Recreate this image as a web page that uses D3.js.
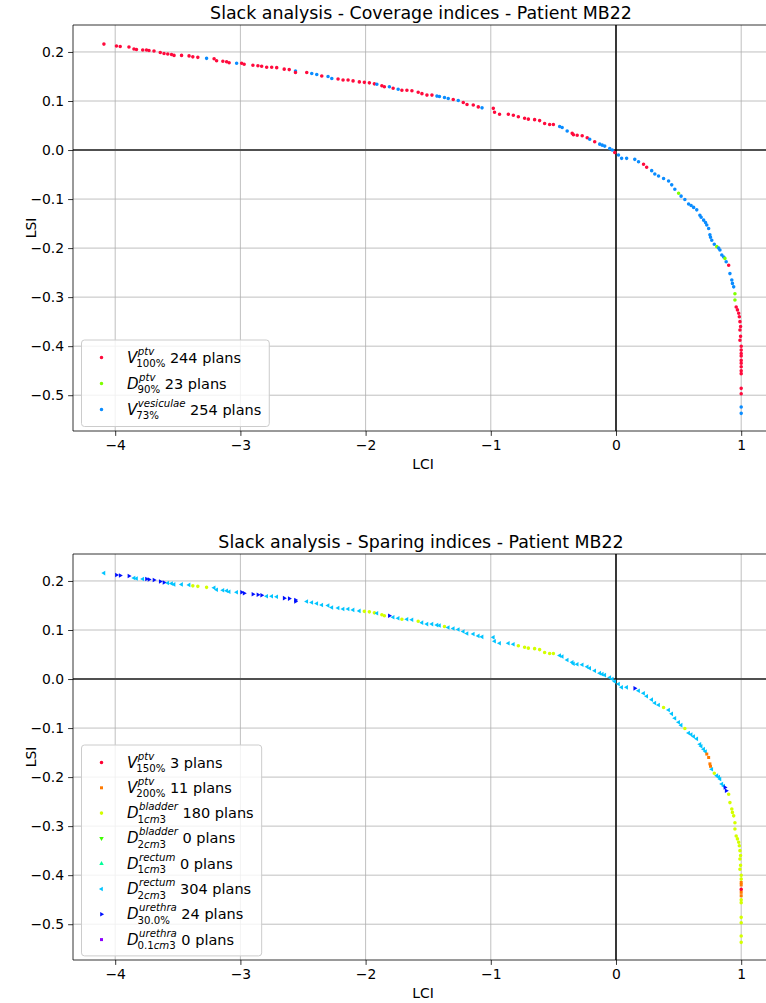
<!DOCTYPE html>
<html>
<head>
<meta charset="utf-8">
<script src="https://cdn.jsdelivr.net/npm/d3@7"></script>
<style>
  body { margin: 0; background: #fff; }
  svg { display: block; font-family: "DejaVu Sans", sans-serif; }
</style>
</head>
<body>
<div id="chart"></div>
<script>
// Plans: LCI, LSI, coverage class, sparing class
const lciValues = [
  -4.09, -3.99, -3.96, -3.89, -3.85, -3.83, -3.78, -3.75, -3.73, -3.69,
  -3.64, -3.61, -3.58, -3.55, -3.53, -3.47, -3.41, -3.38, -3.34, -3.27,
  -3.21, -3.19, -3.14, -3.11, -3.09, -3.03, -2.99, -2.97, -2.90, -2.86,
  -2.83, -2.79, -2.75, -2.71, -2.65, -2.61, -2.56, -2.56, -2.47, -2.43,
  -2.39, -2.35, -2.30, -2.27, -2.22, -2.18, -2.14, -2.10, -2.05, -2.01,
  -1.97, -1.93, -1.91, -1.87, -1.85, -1.81, -1.78, -1.74, -1.71, -1.67,
  -1.63, -1.58, -1.55, -1.51, -1.47, -1.43, -1.41, -1.37, -1.34, -1.30,
  -1.26, -1.22, -1.19, -1.14, -1.10, -1.07, -0.98, -0.97, -0.93, -0.86,
  -0.82, -0.78, -0.73, -0.70, -0.65, -0.61, -0.57, -0.53, -0.50, -0.45,
  -0.43, -0.39, -0.35, -0.34, -0.31, -0.27, -0.23, -0.21, -0.17, -0.13,
  -0.11, -0.09, -0.05, -0.03, -0.01, 0.02, 0.045, 0.085, 0.15, 0.18,
  0.22, 0.245, 0.285, 0.31, 0.34, 0.38, 0.42, 0.445, 0.47, 0.50,
  0.52, 0.55, 0.58, 0.60, 0.62, 0.645, 0.67, 0.68, 0.70, 0.715,
  0.725, 0.74, 0.75, 0.755, 0.765, 0.785, 0.805, 0.82, 0.83, 0.845,
  0.86, 0.87, 0.88, 0.90, 0.91, 0.925, 0.93, 0.94, 0.95, 0.95,
  0.96, 0.97, 0.98, 0.985, 0.99, 0.99, 0.995, 0.99, 0.995, 1.0,
  1.0, 1.0, 1.0, 1.0, 1.0, 1.0, 1.0, 1.0, 1.0, 1.0,
  1.0, 1.0
];
const lsiValues = [
  0.216, 0.212, 0.211, 0.210, 0.206, 0.205, 0.204, 0.204, 0.203, 0.202,
  0.199, 0.197, 0.196, 0.195, 0.193, 0.193, 0.192, 0.190, 0.189, 0.187,
  0.186, 0.182, 0.181, 0.180, 0.178, 0.177, 0.177, 0.175, 0.173, 0.172,
  0.171, 0.169, 0.169, 0.168, 0.165, 0.164, 0.161, 0.158, 0.158, 0.156,
  0.154, 0.151, 0.150, 0.146, 0.145, 0.143, 0.143, 0.141, 0.139, 0.138,
  0.137, 0.135, 0.134, 0.131, 0.129, 0.129, 0.126, 0.124, 0.122, 0.122,
  0.121, 0.118, 0.115, 0.112, 0.112, 0.110, 0.109, 0.107, 0.105, 0.103,
  0.101, 0.097, 0.093, 0.092, 0.088, 0.086, 0.085, 0.077, 0.073, 0.073,
  0.071, 0.068, 0.065, 0.063, 0.062, 0.060, 0.054, 0.052, 0.052, 0.048,
  0.046, 0.039, 0.034, 0.031, 0.030, 0.029, 0.025, 0.022, 0.017, 0.012,
  0.010, 0.008, 0.003, 0.000, -0.005, -0.010, -0.017, -0.017, -0.019, -0.024,
  -0.029, -0.035, -0.042, -0.049, -0.053, -0.058, -0.063, -0.071, -0.080, -0.088,
  -0.094, -0.101, -0.110, -0.113, -0.117, -0.122, -0.133, -0.137, -0.143, -0.148,
  -0.153, -0.160, -0.173, -0.178, -0.184, -0.192, -0.197, -0.200, -0.204, -0.214,
  -0.218, -0.221, -0.228, -0.235, -0.252, -0.265, -0.272, -0.279, -0.293, -0.306,
  -0.320, -0.326, -0.333, -0.340, -0.350, -0.367, -0.360, -0.388, -0.380, -0.400,
  -0.408, -0.415, -0.420, -0.429, -0.435, -0.442, -0.450, -0.456, -0.486, -0.497,
  -0.524, -0.537
];
// 0: V100% ptv, 1: D90% ptv, 2: V73% vesiculae
const coverageClass = [
  0, 0, 0, 0, 0, 0, 0, 0, 0, 0,
  0, 0, 0, 0, 0, 0, 0, 0, 0, 2,
  0, 0, 0, 0, 0, 2, 0, 0, 0, 0,
  0, 0, 0, 0, 0, 0, 2, 0, 0, 2,
  2, 0, 2, 2, 0, 0, 0, 0, 0, 0,
  0, 0, 2, 0, 0, 2, 0, 2, 0, 0,
  0, 0, 0, 0, 0, 2, 2, 2, 2, 0,
  2, 0, 0, 0, 0, 2, 0, 0, 0, 0,
  0, 0, 0, 0, 0, 0, 0, 0, 0, 2,
  2, 2, 0, 0, 0, 0, 0, 2, 0, 2,
  2, 2, 2, 2, 0, 2, 2, 2, 2, 2,
  0, 0, 2, 2, 2, 2, 2, 2, 2, 1,
  2, 2, 2, 2, 2, 2, 2, 2, 2, 2,
  2, 2, 2, 2, 2, 2, 1, 2, 2, 2,
  2, 1, 2, 0, 2, 2, 2, 2, 1, 1,
  0, 0, 0, 0, 0, 0, 0, 0, 0, 0,
  0, 0, 0, 0, 0, 0, 0, 0, 0, 0,
  2, 2
];
// 0: V150%, 1: V200%, 2: D1cm3 bladder, 3: D2cm3 bladder, 4: D1cm3 rectum,
// 5: D2cm3 rectum, 6: D30% urethra, 7: D0.1cm3 urethra
const sparingClass = [
  5, 6, 6, 6, 5, 5, 5, 6, 6, 6,
  6, 6, 5, 5, 5, 5, 5, 2, 2, 2,
  5, 5, 5, 5, 5, 5, 6, 6, 6, 6,
  6, 5, 5, 5, 6, 6, 6, 6, 5, 5,
  5, 5, 5, 5, 5, 5, 5, 5, 5, 2,
  2, 2, 5, 2, 2, 6, 5, 5, 2, 5,
  5, 2, 5, 5, 5, 5, 5, 2, 5, 5,
  5, 5, 5, 5, 5, 5, 5, 5, 5, 5,
  5, 2, 2, 2, 2, 2, 2, 2, 2, 5,
  5, 5, 5, 5, 5, 5, 5, 5, 5, 5,
  5, 5, 5, 5, 5, 5, 5, 5, 6, 5,
  5, 5, 5, 5, 5, 2, 5, 5, 5, 5,
  5, 2, 5, 5, 5, 5, 5, 5, 5, 5,
  1, 1, 1, 1, 5, 2, 5, 5, 5, 5,
  5, 6, 6, 2, 2, 2, 2, 2, 2, 2,
  2, 2, 2, 2, 2, 2, 2, 2, 2, 2,
  2, 1, 1, 0, 1, 1, 2, 2, 2, 2,
  2, 2
];

const coverageBase = ["V", "D", "V"];
const coverageSup = ["ptv", "ptv", "vesiculae"];
const coverageSub = ["100%", "90%", "73%"];
const coveragePlans = [244, 23, 254];

const sparingBase = ["V", "V", "D", "D", "D", "D", "D", "D"];
const sparingSup = ["ptv", "ptv", "bladder", "bladder", "rectum", "rectum", "urethra", "urethra"];
const sparingSub = ["150%", "200%", "1cm3", "2cm3", "1cm3", "2cm3", "30.0%", "0.1cm3"];
const sparingPlans = [3, 11, 180, 0, 0, 304, 24, 0];

const xTicks = [-4, -3, -2, -1, 0, 1];
const yTicks = [-0.5, -0.4, -0.3, -0.2, -0.1, 0.0, 0.1, 0.2];

const coverageColors = ["#ff0a3c", "#7fff00", "#0a8cff"];
const sparingColors = ["#ff0033", "#ff7a00", "#d4ff00", "#3cff00", "#00ff99", "#00c4ff", "#0010ff", "#8c00ff"];
const sparingShapes = ["circle", "square", "circle", "down", "up", "left", "right", "square"];

const W = 766, H = 1003;
const svg = d3.select("#chart").append("svg")
    .attr("width", W).attr("height", H);

const plans = lciValues.map((v, i) => ({
    lci: v, lsi: lsiValues[i], cov: coverageClass[i], spar: sparingClass[i]
}));

function markerPath(shape, size) {
    if (shape === "circle") return d3.symbol(d3.symbolCircle, size)();
    if (shape === "square") return d3.symbol(d3.symbolSquare, size * 0.9)();
    return d3.symbol(d3.symbolTriangle, size * 0.9)();
}
const rot = { up: 0, right: 90, down: 180, left: 270, circle: 0, square: 0 };

function drawPanel(top, title, classKey, colors, shapes, base, sup, sub, counts, legendTop, rowH) {
    const left = 73, right = 773, bottom = top + 406;
    const x = d3.scaleLinear().domain([-4.337, 1.254]).range([left, right]);
    const y = d3.scaleLinear().domain([-0.573, 0.255]).range([bottom, top]);
    const g = svg.append("g");

    // grid
    g.selectAll(".gx").data(xTicks).enter().append("line")
        .attr("x1", d => x(d)).attr("x2", d => x(d))
        .attr("y1", top).attr("y2", bottom)
        .attr("stroke", "#b0b0b0").attr("stroke-width", 0.8);
    g.selectAll(".gy").data(yTicks).enter().append("line")
        .attr("x1", left).attr("x2", right)
        .attr("y1", d => y(d)).attr("y2", d => y(d))
        .attr("stroke", "#b0b0b0").attr("stroke-width", 0.8);

    // zero lines
    g.append("line").attr("x1", left).attr("x2", right)
        .attr("y1", y(0)).attr("y2", y(0))
        .attr("stroke", "#505050").attr("stroke-width", 2);
    g.append("line").attr("x1", x(0)).attr("x2", x(0))
        .attr("y1", top).attr("y2", bottom)
        .attr("stroke", "#000").attr("stroke-width", 1.5);

    // points
    g.selectAll(".pt").data(plans).enter().append("path")
        .attr("d", d => markerPath(shapes[d[classKey]], 10))
        .attr("transform", d => `translate(${x(d.lci)},${y(d.lsi)}) rotate(${rot[shapes[d[classKey]]]})`)
        .attr("fill", d => colors[d[classKey]]);

    // axes
    const xAxis = g.append("g").attr("transform", `translate(0,${bottom})`)
        .call(d3.axisBottom(x).tickValues(xTicks).tickSize(4.9).tickPadding(4).tickFormat(d3.format("d")));
    const yAxis = g.append("g").attr("transform", `translate(${left},0)`)
        .call(d3.axisLeft(y).tickValues(yTicks).tickSize(4.9).tickPadding(4).tickFormat(d3.format(".1f")));
    [xAxis, yAxis].forEach(a => {
        a.select(".domain").remove();
        a.selectAll("text").attr("font-size", 13.9).attr("font-family", "DejaVu Sans").attr("fill", "#000");
        a.selectAll("line").attr("stroke", "#000").attr("stroke-width", 0.8);
    });
    // spines
    g.append("path")
        .attr("d", `M${right},${top}H${left}V${bottom}H${right}`)
        .attr("fill", "none").attr("stroke", "#000").attr("stroke-width", 0.8);

    // labels
    g.append("text").attr("x", (left + right) / 2 - 2).attr("y", top - 6)
        .attr("text-anchor", "middle").attr("font-size", 17.4).text(title);
    g.append("text").attr("x", (left + right) / 2).attr("y", bottom + 38)
        .attr("text-anchor", "middle").attr("font-size", 13.9).text("LCI");
    g.append("text").attr("transform", `translate(36,${(top + bottom) / 2}) rotate(-90)`)
        .attr("text-anchor", "middle").attr("font-size", 13.9).text("LSI");

    // legend
    const lg = g.append("g");
    const box = lg.append("rect").attr("x", 81.5).attr("y", legendTop)
        .attr("rx", 3).attr("fill", "#fff").attr("fill-opacity", 0.8)
        .attr("stroke", "#cccccc").attr("stroke-width", 1);
    let maxRight = 0;
    base.forEach((b, i) => {
        const cy = legendTop + 17.5 + i * rowH;
        const shape = shapes[i];
        lg.append("path").attr("d", markerPath(shape, 10))
            .attr("transform", `translate(101.5,${cy}) rotate(${rot[shape]})`)
            .attr("fill", colors[i]);
        const by = cy + 5;
        const t1 = lg.append("text").attr("x", 127).attr("y", by)
            .attr("font-size", 15).attr("font-style", "italic").text(b);
        const bx = 127 + t1.node().getComputedTextLength() + 0.5;
        const t2 = lg.append("text").attr("x", bx).attr("y", by - 8)
            .attr("font-size", 10.2).attr("font-style", "italic").text(sup[i]);
        const t3 = lg.append("text").attr("x", bx - 1.5).attr("y", by + 4.5)
            .attr("font-size", 10.2);
        sub[i].split(/(cm)/).forEach(part => {
            if (!part) return;
            t3.append("tspan").attr("font-style", part === "cm" ? "italic" : "normal").text(part);
        });
        const ex = Math.max(bx + t2.node().getComputedTextLength(), bx - 1.5 + t3.node().getComputedTextLength());
        const t4 = lg.append("text").attr("x", ex + 4.5).attr("y", by)
            .attr("font-size", 14.5).text(`${counts[i]} plans`);
        maxRight = Math.max(maxRight, ex + 4.5 + t4.node().getComputedTextLength());
    });
    box.attr("width", maxRight + 8 - 81.5).attr("height", base.length * rowH + 8.5);
}

drawPanel(25, "Slack analysis - Coverage indices - Patient MB22", "cov",
    coverageColors, ["circle", "circle", "circle"],
    coverageBase, coverageSup, coverageSub, coveragePlans, 340, 26);
drawPanel(554, "Slack analysis - Sparing indices - Patient MB22", "spar",
    sparingColors, sparingShapes,
    sparingBase, sparingSup, sparingSub, sparingPlans, 745, 25.3);
</script>
</body>
</html>
